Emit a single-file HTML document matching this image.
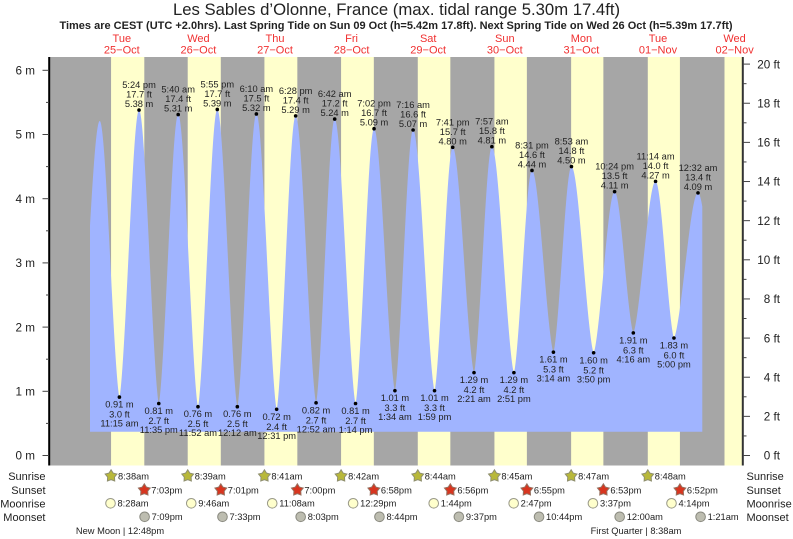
<!DOCTYPE html>
<html lang="en">
<head>
<meta charset="utf-8">
<title>Les Sables d'Olonne tide chart</title>
<style>
html,body{margin:0;padding:0;background:#fff;}
svg{display:block;font-family:"Liberation Sans",Arial,sans-serif;}
</style>
</head>
<body>
<svg id="chart" xmlns="http://www.w3.org/2000/svg" width="793" height="539" viewBox="0 0 793 539">
<rect x="0" y="0" width="793" height="539" fill="#ffffff"/>
<text x="396.5" y="15" text-anchor="middle" font-size="16.7" fill="#222">Les Sables d’Olonne, France (max. tidal range 5.30m 17.4ft)</text>
<text x="396" y="29" text-anchor="middle" font-size="11" font-weight="bold" fill="#222">Times are CEST (UTC +2.0hrs). Last Spring Tide on Sun 09 Oct (h=5.42m 17.8ft). Next Spring Tide on Wed 26 Oct (h=5.39m 17.7ft)</text>
<g id="bands"></g>
<g id="tide"></g>
<g id="axes"></g>
<g id="days"></g>
<g id="rows"></g>
<text x="120" y="534" text-anchor="middle" font-size="9.3" fill="#222">New Moon | 12:48pm</text>
<text x="636" y="534" text-anchor="middle" font-size="9.3" fill="#222">First Quarter | 8:38am</text>
</svg>
<script>
// Day labels (index 0 = 25 Oct)
const dayNames = ["Tue","Wed","Thu","Fri","Sat","Sun","Mon","Tue","Wed"];
const dayDates = ["25−Oct","26−Oct","27−Oct","28−Oct","29−Oct","30−Oct","31−Oct","01−Nov","02−Nov"];

// Sun and moon events, one per day
const sunriseTimes = ["8:38am","8:39am","8:41am","8:42am","8:44am","8:45am","8:47am","8:48am"];
const sunsetTimes = ["7:03pm","7:01pm","7:00pm","6:58pm","6:56pm","6:55pm","6:53pm","6:52pm"];
const lastSunrise = "8:50am";
const moonriseTimes = ["8:28am","9:46am","11:08am","12:29pm","1:44pm","2:47pm","3:37pm","4:14pm"];
const moonsetTimes = ["7:09pm","7:33pm","8:03pm","8:44pm","9:37pm","10:44pm","12:00am","1:21am"];
const moonsetDays = [0,1,2,3,4,5,7,8];

// Tide extremes
const tideDays = [-1,0,0,0,0,1,1,1,2,2,2,2,3,3,3,3,4,4,4,4,5,5,5,5,6,6,6,6,7,7,7,8,8];
const tideTimes = ["10:15 pm","5:05 am","11:15 am","5:24 pm","11:35 pm","5:40 am","11:52 am","5:55 pm","12:12 am","6:10 am","12:31 pm","6:28 pm","12:52 am","6:42 am","1:14 pm","7:02 pm","1:34 am","7:16 am","1:59 pm","7:41 pm","2:21 am","7:57 am","2:51 pm","8:31 pm","3:14 am","8:53 am","3:50 pm","10:24 pm","4:16 am","11:14 am","5:00 pm","12:32 am","7:00 am"];
const tideMeters = [0.95,5.21,0.91,5.38,0.81,5.31,0.76,5.39,0.76,5.32,0.72,5.29,0.82,5.24,0.81,5.09,1.01,5.07,1.01,4.80,1.29,4.81,1.29,4.44,1.61,4.50,1.60,4.11,1.91,4.27,1.83,4.09,1.95];
const tideFeet = [3.1,17.1,3.0,17.7,2.7,17.4,2.5,17.7,2.5,17.5,2.4,17.4,2.7,17.2,2.7,16.7,3.3,16.6,3.3,15.7,4.2,15.8,4.2,14.6,5.3,14.8,5.2,13.5,6.3,14.0,6.0,13.4,6.4];
const tideLabelled = [0,0,1,1,1,1,1,1,1,1,1,1,1,1,1,1,1,1,1,1,1,1,1,1,1,1,1,1,1,1,1,1,0];

// Axis ticks
const meterTicks = [0,1,2,3,4,5,6];
const meterMinorTicks = [0.5,1.5,2.5,3.5,4.5,5.5];
const feetTicks = [0,2,4,6,8,10,12,14,16,18,20];
const feetMinorTicks = [1,3,5,7,9,11,13,15,17,19];
const tideFloor = 0.37;

const NS = "http://www.w3.org/2000/svg";
const plotLeft = 50, plotRight = 742, plotTop = 57, plotBottom = 465.5;
const curveLeft = 90, curveRight = 702.3;
const textColor = "#222";

function hours(s){
  const m = s.match(/(\d+):(\d+)\s*(am|pm)/);
  return (parseInt(m[1],10)%12) + parseInt(m[2],10)/60 + (m[3]==="pm"?12:0);
}
function xScale(day,time){ return 83.5 + 76.6*(day + hours(time)/24); }
function yMeters(m){ return 455.5 - 64.2*m; }
function yFeet(f){ return 455.5 - 19.57*f; }
function make(parent,tag,attrs,txt){
  const el = document.createElementNS(NS,tag);
  for(const k in attrs){ el.setAttribute(k,attrs[k]); }
  if(txt!==undefined){ el.textContent = txt; }
  parent.appendChild(el);
  return el;
}

// Background bands
const bands = document.getElementById("bands");
const nightBase = make(bands,"rect",{x:plotLeft,y:plotTop,width:plotRight-plotLeft,height:plotBottom-plotTop,fill:"#a6a6a6"});


sunriseTimes.forEach(function(t,i){
  const x0 = xScale(i,t), x1 = xScale(i,sunsetTimes[i]);
  const r = make(bands,"rect",{x:x0,y:plotTop,width:x1-x0,height:plotBottom-plotTop,fill:"#ffffcc"});
  
  
});
const lastX = xScale(8,lastSunrise);
const lastBand = make(bands,"rect",{x:lastX,y:plotTop,width:plotRight-lastX,height:plotBottom-plotTop,fill:"#ffffcc"});



// Tide curve
const tideGroup = document.getElementById("tide");
const tideX = tideDays.map(function(d,i){ return xScale(d,tideTimes[i]); });
function shape(u){ return Math.sin(Math.PI/2*Math.pow(u,1.45)); }
function levelAt(x){
  let i = 0;
  while(i < tideX.length-2 && tideX[i+1] < x){ i++; }
  const a = tideMeters[i], b = tideMeters[i+1];
  const u = Math.max(0,Math.min(1,(x-tideX[i])/(tideX[i+1]-tideX[i])));
  if(a < b){ return a + (b-a)*shape(u); }
  return b + (a-b)*shape(1-u);
}
let d = "M"+curveLeft+" "+yMeters(tideFloor).toFixed(2);
const samples = [];
for(let x = curveLeft; x < curveRight; x += 0.25){ samples.push(x); }
samples.push(curveRight);
tideX.forEach(function(x){ if(x>curveLeft && x<curveRight){ samples.push(x); } });
samples.sort(function(a,b){ return a-b; });
samples.forEach(function(x){
  d += "L"+x.toFixed(2)+" "+yMeters(levelAt(x)).toFixed(2);
});
d += "L"+curveRight+" "+yMeters(tideFloor).toFixed(2)+"Z";
const area = make(tideGroup,"path",{d:d,fill:"#a0b4ff"});



tideMeters.forEach(function(m,i){
  if(!tideLabelled[i]){ return; }
  const isHigh = (i>0 ? tideMeters[i-1] : 0) < m;
  const x = tideX[i], y = yMeters(m);
  const dot = make(tideGroup,"circle",{cx:x,cy:y,r:1.8,fill:"#000"});
  
  
  const mText = m.toFixed(2)+" m", fText = tideFeet[i].toFixed(1)+" ft", tText = tideTimes[i];
  const lines = isHigh ? [[tText,-22],[fText,-12.5],[mText,-3]] : [[mText,10.5],[fText,20.5],[tText,29.5]];
  lines.forEach(function(l){
    const t = make(tideGroup,"text",{x:x,y:y+l[1],"text-anchor":"middle","font-size":9.3,fill:textColor},l[0]);
    
    
  });
});

// Axes
const axes = document.getElementById("axes");
const leftAxis = make(axes,"line",{x1:49.2,x2:49.2,y1:plotTop,y2:plotBottom,stroke:"#000","stroke-width":2});


const rightAxis = make(axes,"line",{x1:742.8,x2:742.8,y1:plotTop,y2:plotBottom,stroke:"#333","stroke-width":2});


meterTicks.forEach(function(v){
  const y = yMeters(v);
  const tk = make(axes,"line",{x1:42.5,x2:49,y1:y,y2:y,stroke:"#444","stroke-width":1});
  
  
  const lb = make(axes,"text",{x:35,y:y+4.2,"text-anchor":"end","font-size":11.7,fill:textColor},v+" m");
  
  
});
meterMinorTicks.forEach(function(v){
  const y = yMeters(v);
  const tk = make(axes,"line",{x1:46,x2:49,y1:y,y2:y,stroke:"#444","stroke-width":1});
  
  
});
feetTicks.forEach(function(v){
  const y = yFeet(v);
  const tk = make(axes,"line",{x1:743,x2:750,y1:y,y2:y,stroke:"#444","stroke-width":1});
  
  
  const lb = make(axes,"text",{x:780,y:y+4.2,"text-anchor":"end","font-size":11.7,fill:textColor},v+" ft");
  
  
});
feetMinorTicks.forEach(function(v){
  const y = yFeet(v);
  const tk = make(axes,"line",{x1:743,x2:746.5,y1:y,y2:y,stroke:"#444","stroke-width":1});
  
  
});

// Day headers
const daysGroup = document.getElementById("days");
dayNames.forEach(function(n,i){
  const x = xScale(i,"12:00 pm");
  const a = make(daysGroup,"text",{x:x,y:42,"text-anchor":"middle","font-size":11,fill:"#f03030"},n);
  
  
  const b = make(daysGroup,"text",{x:x,y:53.5,"text-anchor":"middle","font-size":11,fill:"#f03030"},dayDates[i]);
  
  
});

// Astronomy rows
const rows = document.getElementById("rows");
const rowY = {sunrise:476,sunset:490,moonrise:503.3,moonset:516.8};
function starPoints(cx,cy,R,r){
  const p = [];
  for(let i=0;i<10;i++){
    const a = -Math.PI/2 + i*Math.PI/5, q = i%2 ? r : R;
    p.push((cx+q*Math.cos(a)).toFixed(2)+","+(cy+q*Math.sin(a)).toFixed(2));
  }
  return p.join(" ");
}
function eventText(x,y,t){
  const el = make(rows,"text",{x:x+7,y:y+3.4,"font-size":9.3,fill:textColor},t);
  
  
}
sunriseTimes.forEach(function(t,i){
  const x = xScale(i,t), y = rowY.sunrise;
  const s = make(rows,"polygon",{points:starPoints(x,y,6.2,3.6),fill:"#b8b83a",stroke:"#8f8f70","stroke-width":1});
  
  
  eventText(x,y,t);
});
sunsetTimes.forEach(function(t,i){
  const x = xScale(i,t), y = rowY.sunset;
  const s = make(rows,"polygon",{points:starPoints(x,y,6.2,3.6),fill:"#d8351f",stroke:"#97705f","stroke-width":1});
  
  
  eventText(x,y,t);
});
moonriseTimes.forEach(function(t,i){
  const x = xScale(i,t), y = rowY.moonrise;
  const c = make(rows,"circle",{cx:x,cy:y,r:4.8,fill:"#ffffcc",stroke:"#9a9a8a","stroke-width":1});
  
  
  eventText(x,y,t);
});
moonsetTimes.forEach(function(t,i){
  const x = xScale(moonsetDays[i],t), y = rowY.moonset;
  const c = make(rows,"circle",{cx:x,cy:y,r:4.8,fill:"#bdbdb0",stroke:"#8a8a80","stroke-width":1});
  
  
  eventText(x,y,t);
});
const rowNames = ["Sunrise","Sunset","Moonrise","Moonset"];
const rowKeys = ["sunrise","sunset","moonrise","moonset"];
rowNames.forEach(function(n,i){
  const y = rowY[rowKeys[i]] + 4;
  const l = make(rows,"text",{x:45.5,y:y,"text-anchor":"end","font-size":11,fill:textColor},n);
  
  
  const r = make(rows,"text",{x:746.5,y:y,"font-size":11,fill:textColor},n);
  
  
});
</script>
</body>
</html>
